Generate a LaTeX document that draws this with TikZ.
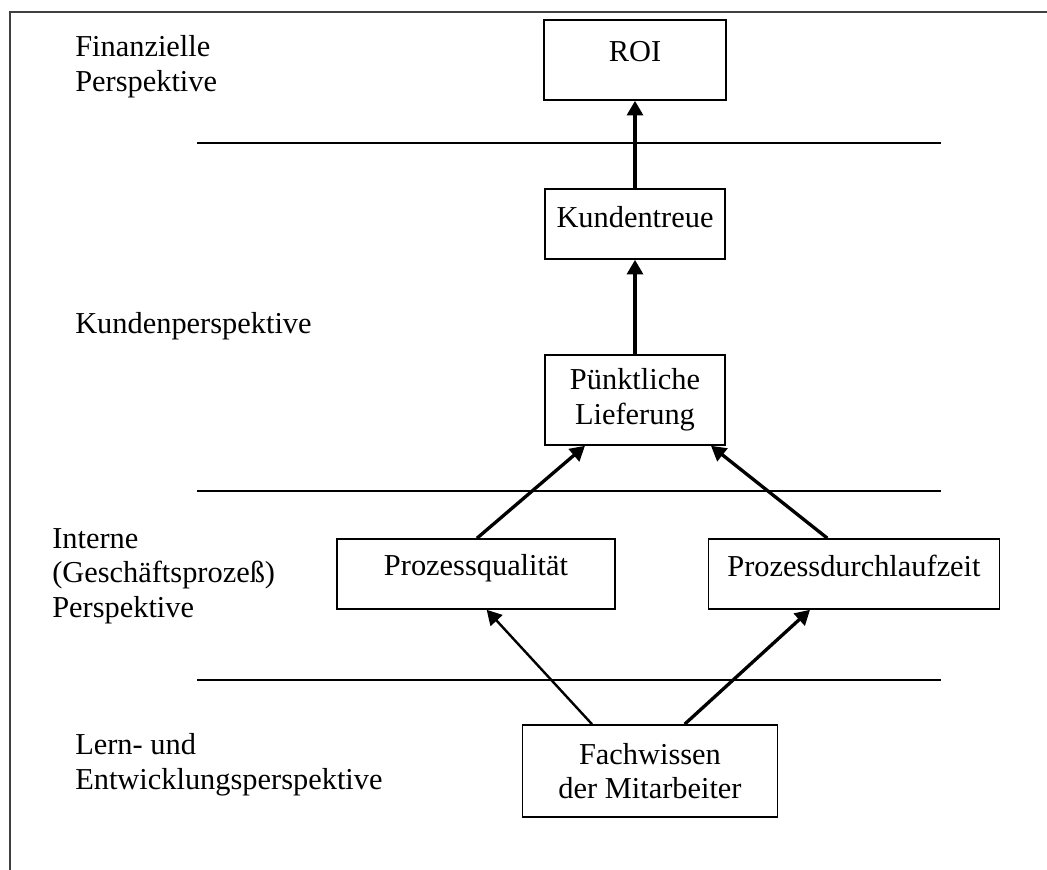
\documentclass[tikz,border=0pt]{standalone}
\usepackage{fontspec}
\setmainfont{Liberation Serif}
\usepackage{tikz}
\usetikzlibrary{arrows.meta,positioning}

\begin{document}
\begin{tikzpicture}[x=0.75pt,y=-0.75pt,
    every node/.style={font=\fontsize{22.8pt}{26pt}\selectfont},
    box/.style={draw,line width=1.2pt,align=center,inner sep=0pt},
    persp/.style={align=left,anchor=north west,inner sep=0pt},
    sep/.style={line width=1.1pt},
    pfeil/.style={line width=2.5pt,-{Triangle[length=11pt,width=12pt]}}]
  \useasboundingbox (0,0) rectangle (1047,870);
  % Rahmen (nur oben und links)
  \draw[black!75,line width=1.6pt] (1047,12)--(10,12)--(10,870);
  % Trennlinien
  \draw[sep] (197,143)--(941,143);
  \draw[sep] (197,491)--(941,491);
  \draw[sep] (197,680)--(941,680);
  % Perspektiven
  \node[persp] (finanz) at (75,35) {Finanzielle\\Perspektive};
  \node[persp] (kunde) at (75,312) {Kundenperspektive};
  \node[persp] (intern) at (52,528) {Interne\\(Geschäftsprozeß)\\Perspektive};
  \node[persp] (lern) at (75,733) {Lern- und\\Entwicklungsperspektive};
  % Ziele
  \node[box,minimum width=136.5pt,minimum height=60pt,text depth=12.5pt] (roi) at (635,60) {ROI};
  \node[box,minimum width=135pt,minimum height=52.5pt,text depth=11pt] (treue) at (635,224) {Kundentreue};
  \node[box,minimum width=135pt,minimum height=67.5pt] (lief) at (635,400) {Pünktliche\\Lieferung};
  \node[box,minimum width=208.5pt,minimum height=52.5pt,text depth=13pt] (qual) at (476,574) {Prozessqualität};
  \node[box,minimum width=218pt,minimum height=52.5pt,text depth=13pt] (dlz) at (854,574) {Prozessdurchlaufzeit};
  \node[box,minimum width=191pt,minimum height=69pt] (wissen) at (650,771) {Fachwissen\\der Mitarbeiter};
  % Ursache-Wirkung
  \draw[pfeil] (treue.north)--(roi.south);
  \draw[pfeil] (lief.north)--(treue.south);
  \draw[pfeil] ([xshift=0.75pt]qual.north)--([xshift=-37.5pt]lief.south);
  \draw[pfeil] ([xshift=-20pt]dlz.north)--([xshift=57pt]lief.south);
  \draw[pfeil,line width=1.8pt] ([xshift=-43.5pt]wissen.north)--([xshift=8pt]qual.south);
  \draw[pfeil] ([xshift=26pt]wissen.north)--([xshift=-33pt]dlz.south);
\end{tikzpicture}
\end{document}
